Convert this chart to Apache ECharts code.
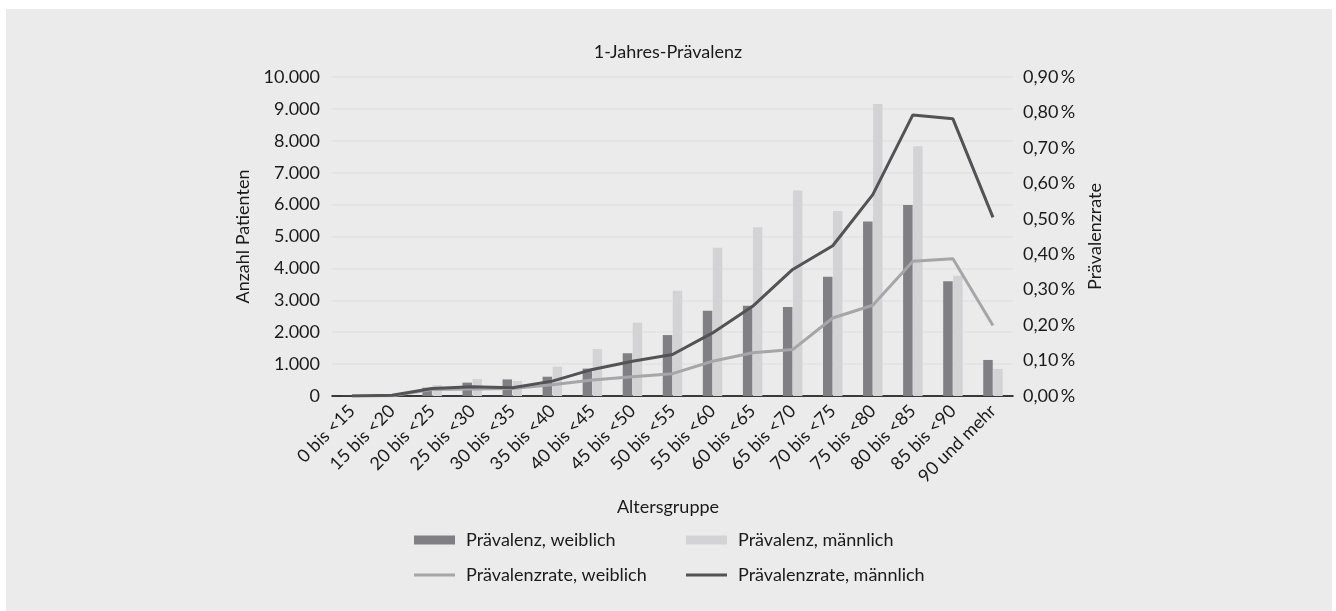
<!DOCTYPE html>
<html>
<head>
<meta charset="utf-8">
<script src="https://cdn.jsdelivr.net/npm/echarts@6/dist/echarts.min.js"></script>
<style>
html,body{margin:0;padding:0;background:#ffffff;}
#chart{width:1336px;height:611px;}
</style>
</head>
<body>
<div id="chart"></div>
<script>
const categories = ['0 bis <15','15 bis <20','20 bis <25','25 bis <30','30 bis <35','35 bis <40','40 bis <45','45 bis <50','50 bis <55','55 bis <60','60 bis <65','65 bis <70','70 bis <75','75 bis <80','80 bis <85','85 bis <90','90 und mehr'];
const praevalenzWeiblich = [5, 10, 260, 420, 520, 605, 860, 1340, 1910, 2670, 2830, 2790, 3740, 5470, 5990, 3600, 1130];
const praevalenzMaennlich = [10, 20, 340, 530, 470, 920, 1470, 2300, 3300, 4650, 5290, 6440, 5800, 9150, 7830, 3770, 850];
const rateWeiblich = [0.000, 0.001, 0.018, 0.020, 0.021, 0.032, 0.045, 0.054, 0.063, 0.098, 0.122, 0.131, 0.220, 0.256, 0.380, 0.387, 0.199];
const rateMaennlich = [0.000, 0.002, 0.021, 0.026, 0.023, 0.042, 0.075, 0.098, 0.117, 0.178, 0.253, 0.357, 0.424, 0.568, 0.793, 0.782, 0.504];
const leftTicks = {min: 0, max: 10000, interval: 1000};
const rightTicks = {min: 0, max: 0.9, interval: 0.1};

const FONT = 'Lato';
const FS = 18;
const TXT = '#1a1a1a';
const C_DARK_BAR = '#808084';
const C_LIGHT_BAR = '#d3d3d5';
const C_LIGHT_LINE = '#a6a6a8';
const C_DARK_LINE = '#535356';

const chart = echarts.init(document.getElementById('chart'), null, {renderer: 'canvas'});

function legendFor(name, left, top, icon, h) {
  return {
    data: [{name: name, icon: icon}],
    left: left, top: top,
    itemWidth: 41, itemHeight: h,
    selectedMode: false,
    padding: 0,
    textStyle: {fontFamily: FONT, fontSize: FS, color: TXT, padding: [0, 0, 0, 6]}
  };
}

const option = {
  backgroundColor: '#ffffff',
  animation: false,
  graphic: [
    {type: 'rect', z: -100, silent: true, shape: {x: 6, y: 9, width: 1326, height: 602}, style: {fill: '#ebebeb'}},
    {type: 'text', left: 'center', top: 498, style: {text: 'Altersgruppe', fontFamily: FONT, fontSize: FS, fill: TXT}}
  ],
  title: {
    text: '1-Jahres-Prävalenz',
    left: 'center', top: 43,
    padding: 0,
    textStyle: {fontFamily: FONT, fontSize: FS, fontWeight: 'normal', color: TXT}
  },
  legend: [
    legendFor('Prävalenz, weiblich', 414, 531, 'rect', 9),
    legendFor('Prävalenz, männlich', 686, 531, 'rect', 9),
    legendFor('Prävalenzrate, weiblich', 414, 566, 'rect', 3),
    legendFor('Prävalenzrate, männlich', 686, 566, 'rect', 3)
  ],
  grid: {left: 332, right: 323, top: 77, bottom: 215, containLabel: false},
  xAxis: {
    type: 'category',
    data: categories,
    axisLine: {show: true, lineStyle: {color: '#000000', width: 1.5}},
    axisTick: {show: false},
    axisLabel: {interval: 0, rotate: 45, margin: 12, fontFamily: FONT, fontSize: FS, color: TXT}
  },
  yAxis: [
    {
      type: 'value', min: leftTicks.min, max: leftTicks.max, interval: leftTicks.interval,
      name: 'Anzahl Patienten', nameLocation: 'middle', nameGap: 78, nameRotate: 90,
      nameTextStyle: {fontFamily: FONT, fontSize: FS, color: TXT},
      axisLine: {show: false}, axisTick: {show: false},
      splitLine: {show: true, lineStyle: {color: '#e2e2e2', width: 1.5}},
      axisLabel: {margin: 12, fontFamily: FONT, fontSize: FS, color: TXT,
        formatter: v => v === 0 ? '0' : String(v).replace(/\B(?=(\d{3})+(?!\d))/g, '.')}
    },
    {
      type: 'value', min: rightTicks.min, max: rightTicks.max, interval: rightTicks.interval,
      name: 'Prävalenzrate', nameLocation: 'middle', nameGap: 68, nameRotate: 90,
      nameTextStyle: {fontFamily: FONT, fontSize: FS, color: TXT},
      axisLine: {show: false}, axisTick: {show: false},
      splitLine: {show: false},
      axisLabel: {margin: 10, fontFamily: FONT, fontSize: FS, color: TXT,
        formatter: v => v.toFixed(2).replace('.', ',') + '\u2009%'}
    }
  ],
  series: [
    {name: 'Prävalenz, weiblich', type: 'bar', yAxisIndex: 0, data: praevalenzWeiblich,
      barWidth: 9.5, barGap: '5%', color: C_DARK_BAR, itemStyle: {color: C_DARK_BAR}},
    {name: 'Prävalenz, männlich', type: 'bar', yAxisIndex: 0, data: praevalenzMaennlich,
      barWidth: 9.5, barGap: '5%', color: C_LIGHT_BAR, itemStyle: {color: C_LIGHT_BAR}},
    {name: 'Prävalenzrate, weiblich', type: 'line', yAxisIndex: 1, data: rateWeiblich,
      showSymbol: false, symbol: 'none', color: C_LIGHT_LINE,
      lineStyle: {color: C_LIGHT_LINE, width: 3}, itemStyle: {color: C_LIGHT_LINE}, z: 3},
    {name: 'Prävalenzrate, männlich', type: 'line', yAxisIndex: 1, data: rateMaennlich,
      showSymbol: false, symbol: 'none', color: C_DARK_LINE,
      lineStyle: {color: C_DARK_LINE, width: 3}, itemStyle: {color: C_DARK_LINE}, z: 4}
  ]
};
chart.setOption(option);
</script>
</body>
</html>
